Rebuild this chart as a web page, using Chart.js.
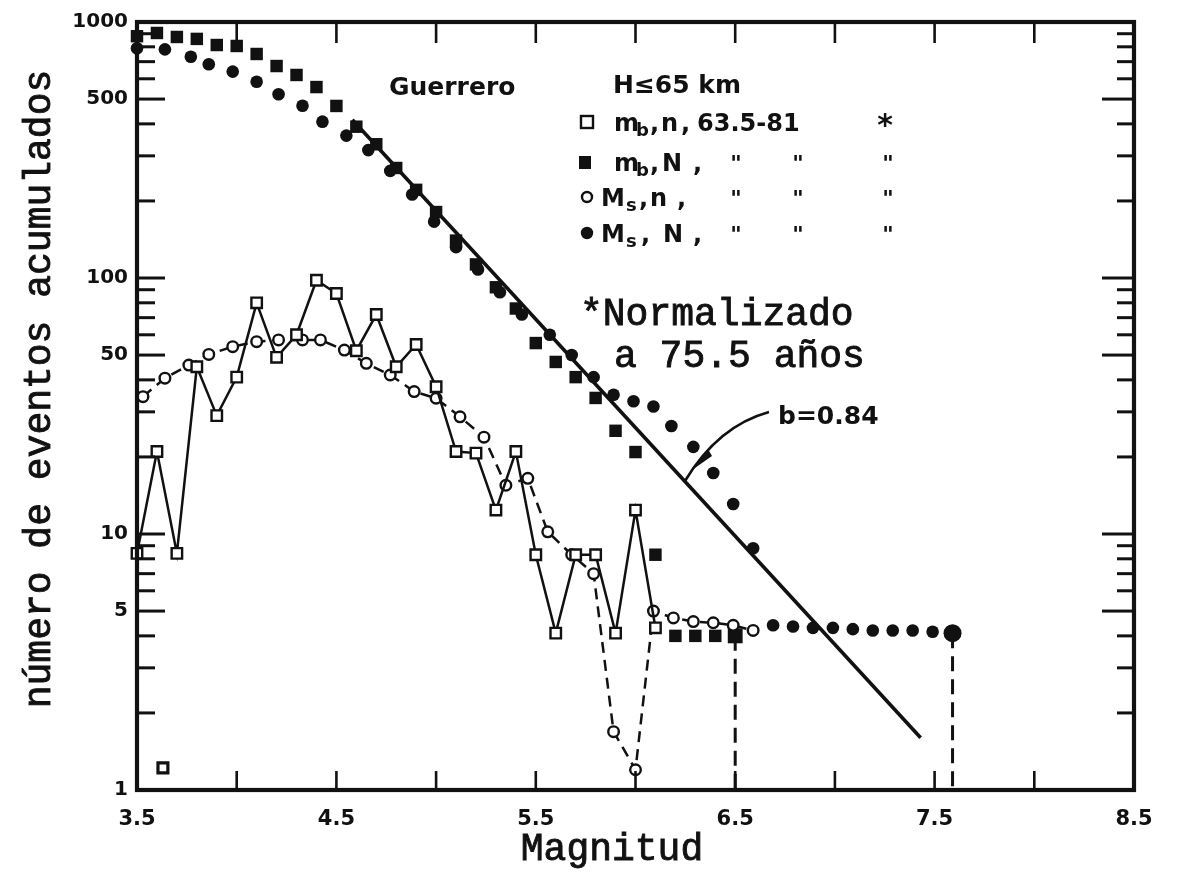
<!DOCTYPE html>
<html><head><meta charset="utf-8">
<script src="https://cdn.jsdelivr.net/npm/chart.js@4/dist/chart.umd.min.js"></script>
<style>html,body{margin:0;padding:0;background:#fff;}canvas{display:block;}</style>
</head><body>
<canvas id="c" width="1177" height="873"></canvas>
<script>
// ---- axis ticks ----
const xTickValues = [3.5,4,4.5,5,5.5,6,6.5,7,7.5,8,8.5];
const xLabelValues = [3.5,4.5,5.5,6.5,7.5,8.5];
const yTickValues = [1,2,3,4,5,6,7,8,9,10,20,30,40,50,60,70,80,90,100,200,300,400,500,600,700,800,900,1000];
const yLabelValues = [1,5,10,50,100,500,1000];

// ---- series: m_b, n (open squares, solid line) ----
const mbnMag   = [3.5,3.6,3.7,3.8,3.9,4.0,4.1,4.2,4.3,4.4,4.5,4.6,4.7,4.8,4.9,5.0,5.1,5.2,5.3,5.4,5.5,5.6,5.7,5.8,5.9,6.0,6.1];
const mbnCount = [8.4,21,8.4,45,29,41,80,49,60,98,87,52,72,45,55,37.6,21,20.7,12.4,21,8.3,4.1,8.3,8.3,4.1,12.4,4.3];

// ---- series: M_s, n (open circles, dashed line) ----
const msnMag   = [3.53,3.64,3.76,3.86,3.98,4.10,4.21,4.33,4.42,4.54,4.65,4.77,4.89,5.0,5.12,5.24,5.35,5.46,5.56,5.68,5.79,5.89,6.0,6.09,6.19,6.29,6.39,6.49,6.59];
const msnCount = [34.4,40.6,45.7,50.3,53.9,56.4,57.3,57.3,57.3,52.3,46.4,41.8,36,33.9,28.7,23.9,15.5,16.5,10.2,8.3,7.0,1.69,1.2,5.0,4.7,4.55,4.5,4.4,4.2];

// ---- series: m_b, N (filled squares) ----
const mbNMag   = [3.5,3.6,3.7,3.8,3.9,4.0,4.1,4.2,4.3,4.4,4.5,4.6,4.7,4.8,4.9,5.0,5.1,5.2,5.3,5.4,5.5,5.6,5.7,5.8,5.9,6.0,6.1,6.2,6.3,6.4,6.5];
const mbNCount = [880,906,874,859,813,806,750,673,621,557,470,390,333,269,221,181,140,113,92,76,55.7,47,41,34,25.3,20.9,8.3,4.0,4.0,4.0,4.0];

// ---- series: M_s, N (filled circles) ----
const msNMag   = [3.5,3.64,3.77,3.86,3.98,4.10,4.21,4.33,4.43,4.55,4.66,4.77,4.88,4.99,5.1,5.21,5.32,5.43,5.57,5.68,5.79,5.89,5.99,6.09,6.18,6.29,6.39,6.49,6.59,6.69,6.79,6.89,6.99,7.09,7.19,7.29,7.39,7.49,7.59];
const msNCount = [790,782,732,684,640,584,522,471,408,360,316,262,212,166,132,108,88,72,60,50,41,35,33,31.5,26.4,21.9,17.3,13.1,8.8,4.4,4.35,4.3,4.3,4.25,4.2,4.2,4.2,4.15,4.1];

// ---- fitted line b = 0.84 ----
const bLineMag   = [4.58, 7.43];
const bLineCount = [415, 1.6];

// ---- vertical dashed drops ----
const dropMag = [6.5, 7.59];
const dropTop = [4.0, 4.1];
const dropBottom = 1;

// ---- isolated small square ----
const strayMag = [3.63];
const strayCount = [1.22];

const INK = '#111';
function pts(xs, ys){ return xs.map((x,i)=>({x:x, y:ys[i]})); }

const datasets = [
  {label:'mb,n', data:pts(mbnMag,mbnCount), showLine:true, borderColor:INK, borderWidth:2.5,
   pointStyle:'rect', pointRadius:7.4, pointBorderWidth:2.4, pointBackgroundColor:'#fff', pointBorderColor:INK},
  {label:'Ms,n', data:pts(msnMag,msnCount), showLine:true, borderColor:INK, borderWidth:2.5, borderDash:[11,7],
   pointStyle:'circle', pointRadius:5.3, pointBorderWidth:2.4, pointBackgroundColor:'#fff', pointBorderColor:INK},
  {label:'mb,N', data:pts(mbNMag,mbNCount), showLine:false,
   pointStyle:'rect', pointRadius:(c)=> c.dataIndex===mbNMag.length-1 ? 10.5 : 8.8,
   pointBorderWidth:0, pointBackgroundColor:INK, pointBorderColor:INK},
  {label:'Ms,N', data:pts(msNMag,msNCount), showLine:false,
   pointStyle:'circle', pointRadius:(c)=> c.dataIndex===msNMag.length-1 ? 9 : 6.3,
   pointBorderWidth:0, pointBackgroundColor:INK, pointBorderColor:INK},
  {label:'b', data:pts(bLineMag,bLineCount), showLine:true, borderColor:INK, borderWidth:3.6, pointRadius:0},
  ...dropMag.map((m,i)=>({label:'drop'+i, data:[{x:m,y:dropTop[i]},{x:m,y:dropBottom}], showLine:true,
     borderColor:INK, borderWidth:3, borderDash:[15,8], pointRadius:0})),
  {label:'stray', data:pts(strayMag,strayCount), showLine:false, pointStyle:'rect', pointRadius:7,
   pointBorderWidth:3.2, pointBackgroundColor:'#fff', pointBorderColor:INK}
];

const MONO = '"Liberation Mono", monospace';
const SANSB = 'bold 25px "DejaVu Sans", sans-serif';

function seg(ctx, parts, baseline){
  parts.forEach(p=>{
    ctx.font = p.sub ? 'bold 18px "DejaVu Sans", sans-serif' : 'bold 24px "DejaVu Sans", sans-serif';
    ctx.fillText(p.t, p.x, baseline + (p.sub ? 5 : 0));
  });
}

const decor = {
  id:'decor',
  afterDraw(chart){
    const ctx = chart.ctx, a = chart.chartArea, xs = chart.scales.x, ys = chart.scales.y;
    ctx.save();
    ctx.strokeStyle = INK; ctx.fillStyle = INK; ctx.lineCap = 'butt';
    const line=(x1,y1,x2,y2)=>{ctx.beginPath();ctx.moveTo(x1,y1);ctx.lineTo(x2,y2);ctx.stroke();};
    // inward ticks
    ctx.lineWidth = 3;
    yTickValues.forEach(v=>{
      if (v===1 || v===1000) return;
      const py = ys.getPixelForValue(v);
      const major = yLabelValues.includes(v);
      line(a.left, py, a.left + (major?28:18), py);
      line(a.right, py, a.right - (major?32:17), py);
    });
    ctx.lineWidth = 2.6;
    xTickValues.forEach(v=>{
      if (v===3.5 || v===8.5) return;
      const px = xs.getPixelForValue(v);
      line(px, a.top, px, a.top+21);
      line(px, a.bottom, px, a.bottom-19);
    });
    // frame
    ctx.lineWidth = 4.2;
    ctx.strokeRect(a.left, a.top, a.right-a.left, a.bottom-a.top);

    // axis titles (typewriter style)
    ctx.lineWidth = 0.9;
    ctx.font = '38px ' + MONO;
    ctx.textBaseline = 'alphabetic';
    ctx.save();
    ctx.translate(50, 389); ctx.rotate(-Math.PI/2);
    ctx.textAlign = 'center';
    ctx.fillText('número de eventos acumulados', 0, 0);
    ctx.strokeText('número de eventos acumulados', 0, 0);
    ctx.restore();
    ctx.textAlign = 'center';
    ctx.fillText('Magnitud', 612, 860); ctx.strokeText('Magnitud', 612, 860);
    ctx.textAlign = 'left';
    ctx.fillText('*Normalizado', 580, 325); ctx.strokeText('*Normalizado', 580, 325);
    ctx.fillText('a 75.5 años', 614, 367); ctx.strokeText('a 75.5 años', 614, 367);

    // header texts
    ctx.font = SANSB;
    ctx.fillText('Guerrero', 389, 95);
    ctx.fillText('H≤65 km', 613, 93);

    // legend markers
    ctx.lineWidth = 2.4;
    ctx.fillStyle = '#fff'; ctx.fillRect(581,116,12,12); ctx.strokeRect(581,116,12,12);
    ctx.fillStyle = INK; ctx.fillRect(579,156,12,13);
    ctx.fillStyle = '#fff'; ctx.beginPath(); ctx.arc(587,197,5,0,Math.PI*2); ctx.fill(); ctx.stroke();
    ctx.fillStyle = INK; ctx.beginPath(); ctx.arc(587,233,6.2,0,Math.PI*2); ctx.fill();

    // legend texts
    seg(ctx, [{t:'m',x:614},{t:'b',x:636,sub:true},{t:',',x:650},{t:'n',x:661},{t:',',x:681},{t:'63.5-81',x:697}], 131);
    seg(ctx, [{t:'m',x:614},{t:'b',x:636,sub:true},{t:',',x:650},{t:'N',x:662},{t:',',x:693}], 171);
    seg(ctx, [{t:'M',x:601},{t:'s',x:626,sub:true},{t:',',x:639},{t:'n',x:650},{t:',',x:677}], 206);
    seg(ctx, [{t:'M',x:601},{t:'s',x:626,sub:true},{t:',',x:641},{t:'N',x:663},{t:',',x:693}], 242);
    ctx.font = 'bold 30px "DejaVu Sans", sans-serif';
    ctx.textAlign = 'center';
    ctx.fillText('*', 885, 135);
    ctx.font = 'bold 22px "DejaVu Sans", sans-serif';
    [171, 206, 242].forEach(b=>{ [736, 798, 888].forEach(x=> ctx.fillText('"', x, b)); });
    ctx.textAlign = 'left';

    // b = 0.84 annotation
    ctx.font = 'bold 25px "DejaVu Sans", sans-serif';
    ctx.fillText('b=0.84', 778, 424);
    ctx.lineWidth = 2.6;
    ctx.beginPath(); ctx.moveTo(685,481); ctx.quadraticCurveTo(718,426,769,412); ctx.stroke();
    ctx.beginPath(); ctx.moveTo(692,470); ctx.lineTo(708,449); ctx.lineTo(712,456); ctx.closePath(); ctx.fill();
    ctx.restore();
  }
};

new Chart(document.getElementById('c'), {
  type:'scatter',
  data:{datasets:datasets},
  options:{
    responsive:false, animation:false, devicePixelRatio:1, events:[],
    layout:{padding:{left:0, top:22, right:43, bottom:0}},
    elements:{line:{tension:0}},
    datasets:{scatter:{clip:false}},
    plugins:{legend:{display:false}, tooltip:{enabled:false}},
    scales:{
      x:{type:'linear', min:3.5, max:8.5, position:'bottom',
         grid:{display:false}, border:{display:false},
         afterBuildTicks:(s)=>{ s.ticks = xTickValues.map(v=>({value:v})); },
         afterFit:(s)=>{ s.height = 83; },
         ticks:{autoSkip:false, maxRotation:0, padding:9, color:INK,
                font:{family:'"DejaVu Sans", sans-serif', weight:'bold', size:21},
                callback:(v)=> xLabelValues.includes(v) ? v.toFixed(1) : ''}},
      y:{type:'logarithmic', min:1, max:1000, position:'left',
         grid:{display:false}, border:{display:false},
         afterBuildTicks:(s)=>{ s.ticks = yTickValues.map(v=>({value:v})); },
         afterFit:(s)=>{ s.width = 137; },
         ticks:{autoSkip:false, padding:1, color:INK,
                font:{family:'"DejaVu Sans", sans-serif', weight:'bold', size:20},
                callback:(v)=> yLabelValues.includes(v) ? String(v) : ''}}
    }
  },
  plugins:[decor]
});
</script>
</body></html>
